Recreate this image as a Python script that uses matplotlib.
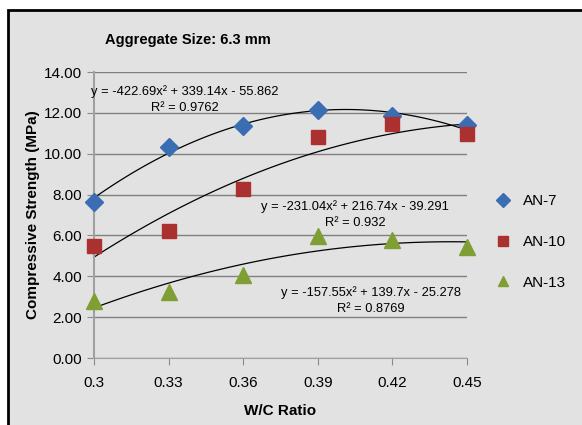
import numpy as np
import matplotlib.pyplot as plt
from matplotlib.patches import Rectangle

plt.rcParams['font.family'] = ['Liberation Sans Narrow', 'Liberation Sans', 'DejaVu Sans']

# Data
wc = [0.30, 0.33, 0.36, 0.39, 0.42, 0.45]
an7 = [7.65, 10.35, 11.35, 12.15, 11.85, 11.4]
an10 = [5.5, 6.2, 8.25, 10.8, 11.45, 10.95]
an13 = [2.8, 3.25, 4.05, 5.95, 5.8, 5.45]

# trendline coefficients printed on the chart
fit7 = [-422.69, 339.14, -55.862]
fit10 = [-231.04, 216.74, -39.291]
fit13 = [-157.55, 139.7, -25.278]
eq7 = ["y = -422.69x² + 339.14x - 55.862", "R² = 0.9762"]
eq10 = ["y = -231.04x² + 216.74x - 39.291", "R² = 0.932"]
eq13 = ["y = -157.55x² + 139.7x - 25.278", "R² = 0.8769"]

xticks = [0.3, 0.33, 0.36, 0.39, 0.42, 0.45]
xticklabels = ['0.3', '0.33', '0.36', '0.39', '0.42', '0.45']
yticks = [0, 2, 4, 6, 8, 10, 12, 14]

bg = '#e2e2e2'
fig = plt.figure(figsize=(5.82, 4.25), dpi=100)
fig.patch.set_facecolor('white')
fig.patches.append(Rectangle((8 / 582, -0.05), 1.1, 1 - 10 / 425 + 0.05,
                             transform=fig.transFigure, facecolor=bg,
                             edgecolor='black', linewidth=2, zorder=-5))

ax = fig.add_axes([94 / 582, 1 - 358 / 425, (467 - 94) / 582, (358 - 72) / 425])
ax.set_zorder(2)
ax.set_facecolor(bg)

xs = np.linspace(0.3, 0.45, 100)
for fit in (fit7, fit10, fit13):
    ax.plot(xs, np.polyval(fit, xs), color='black', lw=0.9, zorder=2)

ax.plot(wc, an7, 'D', color='#3b6db3', ms=9.5, label='AN-7', zorder=3, clip_on=False)
ax.plot(wc, an10, 's', color='#ab3030', ms=10, label='AN-10', zorder=3, clip_on=False)
ax.plot(wc, an13, '^', color='#7f9f35', ms=11, label='AN-13', zorder=3, clip_on=False)

ax.set_xlim(0.3, 0.45)
ax.set_ylim(0, 14)
ax.set_xticks(xticks)
ax.set_xticklabels(xticklabels)
ax.set_yticks(yticks)
ax.set_yticklabels([f'{v:.2f}' for v in yticks])
ax.yaxis.grid(True, color='#808080', lw=1)
ax.set_axisbelow(True)
for s in ('top', 'right'):
    ax.spines[s].set_visible(False)
ax.spines['left'].set_color('#a0a0a0')
ax.spines['bottom'].set_color('#a0a0a0')
ax.spines['left'].set_linewidth(1.5)
ax.tick_params(axis='both', labelsize=11, color='#8a8a8a', length=5)
ax.tick_params(axis='x', pad=8)

ax.set_xlabel('W/C Ratio', fontsize=11, fontweight='bold', labelpad=10)
ax.set_ylabel('Compressive Strength (MPa)', fontsize=11, fontweight='bold', labelpad=3)
fig.text(105 / 582, 1 - 40 / 425, 'Aggregate Size: 6.3 mm', fontsize=10.5,
         fontweight='bold', ha='left', va='center')

def eq_text(x, y, lines):
    ax.text(x, y, lines[0] + '\n' + lines[1], fontsize=9.3, ha='center',
            va='center', linespacing=1.45)

eq_text(0.3365, 12.65, eq7)
eq_text(0.405, 7.0, eq10)
eq_text(0.4114, 2.8, eq13)

leg = ax.legend(loc='center left', bbox_to_anchor=(1.02, 0.406), frameon=False,
                fontsize=11, labelspacing=1.75, handletextpad=0.3, markerscale=0.7)

fig.savefig('out.png', dpi=100, facecolor='white')
